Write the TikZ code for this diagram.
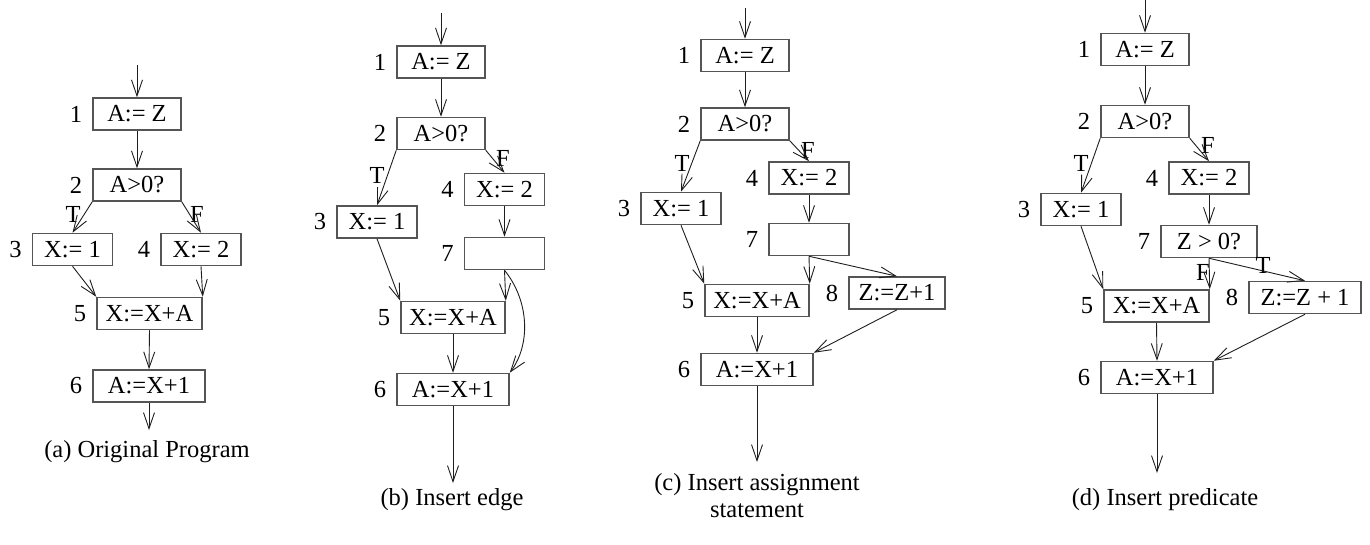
\documentclass[tikz,border=0pt]{standalone}
\usepackage{fontspec}
\setmainfont{Liberation Serif}
\usetikzlibrary{arrows.meta}
\definecolor{boxgray}{RGB}{85,85,85}
\definecolor{edgeink}{RGB}{30,30,30}
\tikzset{
  every node/.style={font=\fontsize{24.5bp}{27bp}\selectfont, inner sep=0pt},
  box/.style={draw=boxgray, line width=1.5bp, minimum height=32bp, minimum width=#1},
  box/.default=80bp,
  num/.style={left=10bp},
  flow/.style={draw=edgeink, line width=0.9bp, -{Straight Barb[length=16bp,width=11bp]}},
  caption/.style={align=center},
}
\begin{document}
\begin{tikzpicture}[x=1bp,y=-1bp]
\useasboundingbox (0,0) rectangle (1370,545);

% ---------- (a) original program ----------
\node[box=88bp]  (a1) at (137,114)   {A:= Z};
\node[box=88bp]  (a2) at (137,185)   {A>0?};
\node[box]       (a3) at (72.5,249.5) {X:= 1};
\node[box]       (a4) at (201,249.5)  {X:= 2};
\node[box=105bp] (a5) at (149.5,313.5) {X:=X+A};
\node[box=112bp] (a6) at (149,386)   {A:=X+1};
\foreach \i in {1,...,6} \node[num] (a\i n) at (a\i.west) {\i};
\coordinate (a0) at (137,65);
\coordinate (ax) at (149,430);
\node (aT) at (73,214) {T};
\node (aF) at (197,214) {F};
\draw[flow] (a0) -- (a1.north);
\draw[flow] (a1.south) -- (a2.north);
\draw[flow] (a2.south west) -- (a3.north);
\draw[flow] (a2.south east) -- (a4.north);
\draw[flow] (a3.south) -- (a5.north west);
\draw[flow] (a4.south) -- (a5.north east);
\draw[flow] (a5.south) -- (a6.north);
\draw[flow] (a6.south) -- (ax);
\node[caption] (acap) at (147,452) {(a) Original Program};

% ---------- (b) insert edge ----------
\node[box=88bp]  (b1) at (441,62)    {A:= Z};
\node[box=88bp]  (b2) at (441,133.5) {A>0?};
\node[box]       (b4) at (504.5,189.5) {X:= 2};
\node[box]       (b3) at (377,222)   {X:= 1};
\node[box]       (b7) at (504.5,253.5) {};
\node[box=104bp] (b5) at (453,317.5) {X:=X+A};
\node[box=112bp] (b6) at (453,389.5) {A:=X+1};
\foreach \i in {1,...,7} \node[num] (b\i n) at (b\i.west) {\i};
\coordinate (b0) at (441,13);
\coordinate (bx) at (453,483);
\node (bT) at (377,175) {T};
\node (bF) at (503,158) {F};
\draw[flow] (b0) -- (b1.north);
\draw[flow] (b1.south) -- (b2.north);
\draw[flow] (b2.south west) -- (b3.north);
\draw[flow] (b2.south east) -- (b4.north);
\draw[flow] (b4.south) -- (b7.north);
\draw[flow] (b3.south) -- (b5.north west);
\draw[flow] (b7.south) -- (b5.north east);
\draw[flow] (b7.south) .. controls +(25,31) and +(21,-28) .. (b6.north east);
\draw[flow] (b5.south) -- (b6.north);
\draw[flow] (b6.south) -- (bx);
\node[caption] (bcap) at (452,500) {(b) Insert edge};

% ---------- (c) insert assignment statement ----------
\node[box=88bp]  (c1) at (745,55.5)  {A:= Z};
\node[box=88bp]  (c2) at (745,124)   {A>0?};
\node[box]       (c4) at (809,178)   {X:= 2};
\node[box]       (c3) at (681,208.5) {X:= 1};
\node[box]       (c7) at (809,239.5) {};
\node[box=104bp] (c5) at (757,300.5) {X:=X+A};
\node[box=96bp]  (c8) at (897,293)   {Z:=Z+1};
\node[box=112bp] (c6) at (757,369.5) {A:=X+1};
\foreach \i in {1,...,8} \node[num] (c\i n) at (c\i.west) {\i};
\coordinate (c0) at (745,8);
\coordinate (cx) at (757,462);
\node (cT) at (682,163) {T};
\node (cF) at (808,150) {F};
\draw[flow] (c0) -- (c1.north);
\draw[flow] (c1.south) -- (c2.north);
\draw[flow] (c2.south west) -- (c3.north);
\draw[flow] (c2.south east) -- (c4.north);
\draw[flow] (c4.south) -- (c7.north);
\draw[flow] (c3.south) -- (c5.north west);
\draw[flow] (c7.south) -- (c5.north east);
\draw[flow] (c7.south) -- (c8.north);
\draw[flow] (c8.south) -- (c6.north east);
\draw[flow] (c5.south) -- (c6.north);
\draw[flow] (c6.south) -- (cx);
\node[caption] (ccap) at (757,496) {(c) Insert assignment\\statement};

% ---------- (d) insert predicate ----------
\node[box=88bp]  (d1) at (1145,49.5)  {A:= Z};
\node[box=88bp]  (d2) at (1145,121.5) {A>0?};
\node[box]       (d4) at (1209,178)   {X:= 2};
\node[box]       (d3) at (1081,209.5) {X:= 1};
\node[box=96bp]  (d7) at (1209,241.5) {Z > 0?};
\node[box=105bp] (d5) at (1156.5,306) {X:=X+A};
\node[box=112bp] (d8) at (1305,297.5) {Z:=Z + 1};
\node[box=112bp] (d6) at (1157,377.5) {A:=X+1};
\foreach \i in {1,...,8} \node[num] (d\i n) at (d\i.west) {\i};
\coordinate (d0) at (1145,0);
\coordinate (dx) at (1157,473);
\node (dT) at (1081,163) {T};
\node (dF) at (1208,145) {F};
\node (dF2) at (1203,272) {F};
\node (dT2) at (1263,265) {T};
\draw[flow] (d0) -- (d1.north);
\draw[flow] (d1.south) -- (d2.north);
\draw[flow] (d2.south west) -- (d3.north);
\draw[flow] (d2.south east) -- (d4.north);
\draw[flow] (d4.south) -- (d7.north);
\draw[flow] (d3.south) -- (d5.north west);
\draw[flow] (d7.south) -- (d5.north east);
\draw[flow] (d7.south) -- (d8.north);
\draw[flow] (d8.south) -- (d6.north east);
\draw[flow] (d5.south) -- (d6.north);
\draw[flow] (d6.south) -- (dx);
\node[caption] (dcap) at (1165,500) {(d) Insert predicate};
\end{tikzpicture}
\end{document}
